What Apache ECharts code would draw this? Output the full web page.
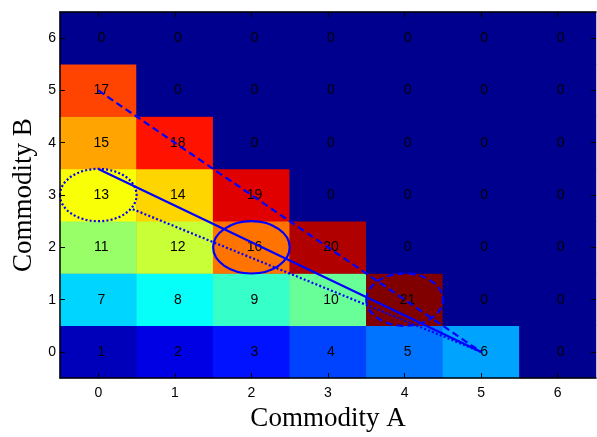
<!DOCTYPE html>
<html>
<head>
<meta charset="utf-8">
<script src="https://cdn.jsdelivr.net/npm/echarts@6/dist/echarts.min.js"></script>
<style>html,body{margin:0;padding:0;background:#fff}#c{width:597px;height:437px}</style>
</head>
<body>
<div id="c"></div>
<script>
// Category tick labels
var xCategories = ['0', '1', '2', '3', '4', '5', '6'];
var yCategories = ['0', '1', '2', '3', '4', '5', '6'];
// Cell values, one array per Commodity B row (index = Commodity A)
var row0 = [1, 2, 3, 4, 5, 6, 0];
var row1 = [7, 8, 9, 10, 21, 0, 0];
var row2 = [11, 12, 16, 20, 0, 0, 0];
var row3 = [13, 14, 19, 0, 0, 0, 0];
var row4 = [15, 18, 0, 0, 0, 0, 0];
var row5 = [17, 0, 0, 0, 0, 0, 0];
var row6 = [0, 0, 0, 0, 0, 0, 0];
var rows = [row0, row1, row2, row3, row4, row5, row6];
// Overlaid lines (data coordinates)
var dashedLine = [[0, 5], [5, 0]];
var solidLine = [[0, 3.5], [5, 0]];
var dottedLine = [[0.45, 2.73], [5, 0]];
// Ellipses: centre x, centre y, radius (data units), style
var ellipses = [[0, 3, 0.5, 'dotted'], [2, 2, 0.5, 'solid'], [4, 1, 0.5, 'dashed']];

var heatData = [];
rows.forEach(function (r, y) { r.forEach(function (v, x) { heatData.push([x, y, v]); }); });

var blue = '#0000ff';
var dashMap = { dotted: [2, 2.2], solid: null, dashed: [7, 4] };
var axisCol = '#000';
var labelFont = { color: '#000', fontSize: 14, fontFamily: 'Liberation Sans, Arial' };

function lineSeries(data, type) {
  return {
    type: 'line', xAxisIndex: 2, yAxisIndex: 2, data: data, symbol: 'none', silent: true,
    lineStyle: { color: blue, width: 2.2, type: dashMap[type] || 'solid' }, z: 5
  };
}

var chart = echarts.init(document.getElementById('c'), null, { renderer: 'canvas' });
chart.setOption({
  animation: false,
  backgroundColor: '#fff',
  grid: { left: 60, right: 1, top: 12, bottom: 53, show: true, backgroundColor: '#00008f', borderWidth: 0 },
  visualMap: {
    show: false, min: 0, max: 21, seriesIndex: 0, dimension: 2,
    inRange: { color: ['#00008f', '#0000ff', '#0080ff', '#00ffff', '#80ff80', '#ffff00', '#ff8000', '#ff0000', '#800000'] }
  },
  xAxis: [
    {
      type: 'category', data: xCategories, position: 'bottom', z: 20,
      axisLine: { show: true, onZero: false, lineStyle: { color: axisCol, width: 1.5 } },
      axisTick: { show: true, inside: true, alignWithLabel: true, length: 5, lineStyle: { color: axisCol } },
      axisLabel: Object.assign({ margin: 8 }, labelFont),
      splitLine: { show: false }, splitArea: { show: false },
      name: 'Commodity A', nameLocation: 'middle', nameGap: 25,
      nameTextStyle: { color: '#000', fontSize: 27, fontFamily: 'Liberation Serif, Times New Roman' }
    },
    {
      type: 'category', data: xCategories, position: 'top', z: 20,
      axisLine: { show: true, onZero: false, lineStyle: { color: axisCol, width: 1.5 } },
      axisTick: { show: true, inside: true, alignWithLabel: true, length: 5, lineStyle: { color: axisCol } },
      axisLabel: { show: false }, splitLine: { show: false }, splitArea: { show: false }
    },
    { type: 'value', min: -0.5, max: 6.5, show: false }
  ],
  yAxis: [
    {
      type: 'category', data: yCategories, position: 'left', z: 20,
      axisLine: { show: true, onZero: false, lineStyle: { color: axisCol, width: 1.5 } },
      axisTick: { show: true, inside: true, alignWithLabel: true, length: 5, lineStyle: { color: axisCol } },
      axisLabel: Object.assign({ margin: 4 }, labelFont),
      splitLine: { show: false }, splitArea: { show: false },
      name: 'Commodity B', nameLocation: 'middle', nameGap: 17,
      nameTextStyle: { color: '#000', fontSize: 27, fontFamily: 'Liberation Serif, Times New Roman' }
    },
    {
      type: 'category', data: yCategories, position: 'right', z: 20,
      axisLine: { show: false, onZero: false },
      axisTick: { show: true, inside: true, alignWithLabel: true, length: 5, lineStyle: { color: axisCol } },
      axisLabel: { show: false }, splitLine: { show: false }, splitArea: { show: false }
    },
    { type: 'value', min: -0.5, max: 6.5, show: false }
  ],
  series: [
    {
      type: 'heatmap', data: heatData, xAxisIndex: 0, yAxisIndex: 0,
      itemStyle: { borderWidth: 0 },
      label: { show: true, color: '#000', fontSize: 14, fontFamily: 'Liberation Sans, Arial', offset: [3, 0] },
      emphasis: { disabled: true }, silent: true, z: 2
    },
    lineSeries(dashedLine, 'dashed'),
    lineSeries(solidLine, 'solid'),
    lineSeries(dottedLine, 'dotted'),
    {
      type: 'custom', xAxisIndex: 2, yAxisIndex: 2, data: ellipses, silent: true, z: 6,
      encode: { x: 0, y: 1 },
      renderItem: function (params, api) {
        var c = api.coord([api.value(0), api.value(1)]);
        var r = api.value(2);
        var s = api.size([r, r]);
        var style = ellipses[params.dataIndex][3];
        return {
          type: 'ellipse',
          shape: { cx: c[0], cy: c[1], rx: s[0], ry: s[1] },
          style: { fill: null, stroke: blue, lineWidth: 2.2, lineDash: dashMap[style] }
        };
      }
    }
  ]
});
</script>
</body>
</html>
